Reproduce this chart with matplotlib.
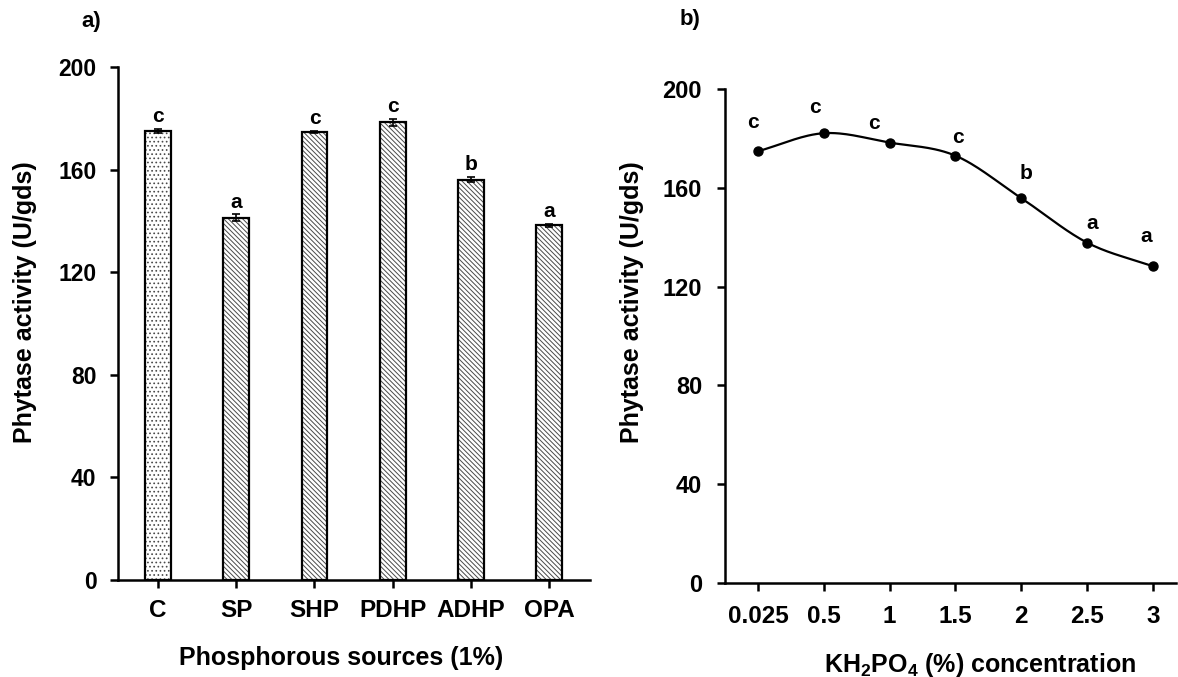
import numpy as np
import matplotlib
matplotlib.use("Agg")
import matplotlib.pyplot as plt

plt.rcParams['font.family'] = ['Liberation Sans', 'DejaVu Sans']
plt.rcParams['font.weight'] = 'bold'
plt.rcParams['mathtext.fontset'] = 'custom'
plt.rcParams['mathtext.rm'] = 'Liberation Sans'
plt.rcParams['mathtext.bf'] = 'Liberation Sans:bold'
plt.rcParams['hatch.linewidth'] = 0.7

# ---- data: panel a ----
sources = ["C", "SP", "SHP", "PDHP", "ADHP", "OPA"]
activity_a = [175.0, 141.3, 174.6, 178.4, 156.0, 138.3]
errors_a = [0.8, 1.2, 0.5, 1.3, 1.0, 0.5]
letters_a = ["c", "a", "c", "c", "b", "a"]

# ---- data: panel b ----
conc_labels = ["0.025", "0.5", "1", "1.5", "2", "2.5", "3"]
activity_b = [174.8, 182.1, 178.3, 173.0, 155.8, 137.8, 128.2]
letters_b = ["c", "c", "c", "c", "b", "a", "a"]

W, H = 1178, 677
fig = plt.figure(figsize=(W / 100, H / 100), dpi=100)
PT = 0.72  # points per pixel at dpi 100


def style(ax, ysize, xsize, ypad, xpad):
    for s in ["top", "right"]:
        ax.spines[s].set_visible(False)
    for s in ["left", "bottom"]:
        ax.spines[s].set_linewidth(1.8)
    ax.tick_params(axis="both", direction="out", length=5.5, width=1.8)
    ax.tick_params(axis="y", labelsize=ysize, pad=ypad)
    ax.tick_params(axis="x", labelsize=xsize, pad=xpad)
    for lab in ax.get_xticklabels() + ax.get_yticklabels():
        lab.set_fontweight("bold")


# ---- panel a ----
axa = fig.add_axes([118 / W, 1 - 580 / H, (590 - 118) / W, (580 - 67) / H])
x = np.arange(len(sources))
hatches = ["...."] + ["\\\\\\\\\\\\\\"] * (len(sources) - 1)
for xi, v, h in zip(x, activity_a, hatches):
    axa.bar(xi, v, width=0.33, color="white", edgecolor="#4a4a4a",
            hatch=h, linewidth=0, zorder=2)
axa.bar(x, activity_a, width=0.33, fill=False, edgecolor="black",
        linewidth=1.6, zorder=3)
axa.errorbar(x, activity_a, yerr=errors_a, fmt="none", ecolor="black",
             elinewidth=1.2, capsize=3, capthick=1.2, zorder=4)
for xi, v, e, l in zip(x, activity_a, errors_a, letters_a):
    axa.annotate(l, (xi, v + e), xytext=(0, 5), textcoords="offset points",
                 ha="center", va="baseline", fontsize=15, fontweight="bold")
axa.set_xlim(-0.51, 5.52)
axa.set_ylim(0, 200)
axa.set_yticks([0, 40, 80, 120, 160, 200])
axa.set_xticks(x)
axa.set_xticklabels(sources)
style(axa, 16.5, 17.5, 10, 8)
fig.text(25 / W, 1 - 302 / H, "Phytase activity (U/gds)", rotation=90,
         fontsize=18, fontweight="bold", ha="center", va="center")
fig.text(341 / W, 1 - 658 / H, "Phosphorous sources (1%)",
         fontsize=18, fontweight="bold", ha="center", va="center")
fig.text(81 / W, 1 - 22 / H, "a)", fontsize=16, fontweight="bold",
         ha="left", va="center")

# ---- panel b ----
axb = fig.add_axes([725 / W, 1 - 583 / H, (1176 - 725) / W, (583 - 89) / H])
xb = np.arange(len(conc_labels), dtype=float)
yb = np.array(activity_b)


# Catmull-Rom smoothing through the measured points
def catmull_rom(px, py, n=30):
    P = np.column_stack([px, py])
    P = np.vstack([P[0] - (P[1] - P[0]), P, P[-1] + (P[-1] - P[-2])])
    out = []
    t = np.linspace(0, 1, n)[:, None]
    for i in range(1, len(P) - 2):
        p0, p1, p2, p3 = P[i - 1], P[i], P[i + 1], P[i + 2]
        seg = 0.5 * ((2 * p1) + (-p0 + p2) * t +
                     (2 * p0 - 5 * p1 + 4 * p2 - p3) * t ** 2 +
                     (-p0 + 3 * p1 - 3 * p2 + p3) * t ** 3)
        out.append(seg if i == 1 else seg[1:])
    out = np.vstack(out)
    return out[:, 0], out[:, 1]


sx, sy = catmull_rom(xb, yb)
axb.plot(sx, sy, color="black", linewidth=1.6, zorder=2)
axb.plot(xb, yb, "o", color="black", markersize=6.5, zorder=3)
# letter offsets (pixels) relative to each point
lab_dx = [-5, -9, -16, 2, 5, 5, -7]
lab_dy = [23, 20, 14, 13, 19, 14, 24]
for xi, v, l, dx, dy in zip(xb, yb, letters_b, lab_dx, lab_dy):
    axb.annotate(l, (xi, v), xytext=(dx * PT, dy * PT),
                 textcoords="offset points", ha="center", va="baseline",
                 fontsize=15, fontweight="bold")
axb.set_xlim(-0.5, 6.35)
axb.set_ylim(0, 200)
axb.set_yticks([0, 40, 80, 120, 160, 200])
axb.set_xticks(xb)
axb.set_xticklabels(conc_labels)
style(axb, 17, 17.5, 11, 10)
fig.text(632 / W, 1 - 302 / H, "Phytase activity (U/gds)", rotation=90,
         fontsize=18, fontweight="bold", ha="center", va="center")
fig.text(980 / W, 1 - 665 / H,
         r"KH$_\mathbf{2}$PO$_\mathbf{4}$ (%) concentration",
         fontsize=18, fontweight="bold", ha="center", va="center")
fig.text(680 / W, 1 - 20 / H, "b)", fontsize=16, fontweight="bold",
         ha="left", va="center")

fig.savefig("out.png", dpi=100, facecolor="white")
